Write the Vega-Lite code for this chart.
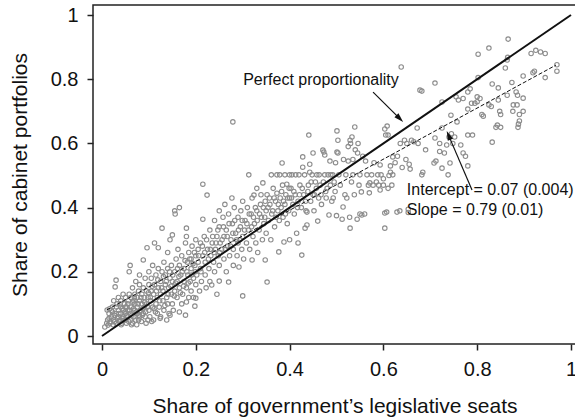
{
  "$schema": "https://vega.github.io/schema/vega-lite/v6.json",
  "width": 483,
  "height": 339,
  "autosize": {"type": "none"},
  "padding": {"left": 93, "top": 5, "right": 0, "bottom": 76},
  "background": "white",
  "config": {
    "font": "Liberation Sans",
    "view": {"stroke": "#222", "strokeWidth": 1.5},
    "axis": {
      "domain": false,
      "grid": false,
      "tickColor": "#222",
      "tickWidth": 1.5,
      "tickSize": 6,
      "labelFont": "Liberation Sans",
      "labelFontSize": 20,
      "labelColor": "#111",
      "titleFont": "Liberation Sans",
      "titleFontSize": 21,
      "titleFontWeight": "normal",
      "titleColor": "#111"
    }
  },
  "datasets": {
    "pts": [
      {"x":0.006,"y":0.028},{"x":0.01,"y":0.04},{"x":0.011,"y":0.081},{"x":0.012,"y":0.05},{"x":0.013,"y":0.034},{"x":0.015,"y":0.07},{"x":0.016,"y":0.085},{"x":0.017,"y":0.04},{"x":0.018,"y":0.045},{"x":0.02,"y":0.06},{"x":0.02,"y":0.08},{"x":0.022,"y":0.09},{"x":0.024,"y":0.035},{"x":0.025,"y":0.05},{"x":0.025,"y":0.11},{"x":0.026,"y":0.065},{"x":0.028,"y":0.153},{"x":0.03,"y":0.174},{"x":0.03,"y":0.07},{"x":0.03,"y":0.04},{"x":0.032,"y":0.1},{"x":0.033,"y":0.055},{"x":0.035,"y":0.06},{"x":0.035,"y":0.08},{"x":0.035,"y":0.12},{"x":0.037,"y":0.045},{"x":0.038,"y":0.05},{"x":0.04,"y":0.09},{"x":0.04,"y":0.07},{"x":0.04,"y":0.11},{"x":0.041,"y":0.035},{"x":0.042,"y":0.04},{"x":0.043,"y":0.085},{"x":0.045,"y":0.06},{"x":0.045,"y":0.13},{"x":0.045,"y":0.08},{"x":0.047,"y":0.05},{"x":0.048,"y":0.1},{"x":0.05,"y":0.05},{"x":0.05,"y":0.07},{"x":0.05,"y":0.12},{"x":0.05,"y":0.09},
      {"x":0.015,"y":0.055},{"x":0.022,"y":0.075},{"x":0.027,"y":0.045},{"x":0.031,"y":0.09},{"x":0.036,"y":0.07},{"x":0.039,"y":0.1},{"x":0.044,"y":0.055},{"x":0.049,"y":0.075},{"x":0.053,"y":0.09},{"x":0.056,"y":0.11},{"x":0.059,"y":0.08},{"x":0.064,"y":0.065},{"x":0.067,"y":0.085},{"x":0.069,"y":0.12},{"x":0.073,"y":0.075},{"x":0.077,"y":0.1},{"x":0.079,"y":0.065},{"x":0.083,"y":0.12},{"x":0.087,"y":0.085},{"x":0.091,"y":0.105},{"x":0.093,"y":0.075},{"x":0.097,"y":0.09},{"x":0.099,"y":0.135},
      {"x":0.052,"y":0.04},{"x":0.053,"y":0.065},{"x":0.055,"y":0.06},{"x":0.055,"y":0.08},{"x":0.055,"y":0.1},{"x":0.057,"y":0.045},{"x":0.058,"y":0.13},{"x":0.058,"y":0.2},{"x":0.06,"y":0.22},{"x":0.06,"y":0.05},{"x":0.06,"y":0.07},{"x":0.062,"y":0.09},{"x":0.062,"y":0.12},{"x":0.063,"y":0.035},{"x":0.065,"y":0.15},{"x":0.065,"y":0.04},{"x":0.066,"y":0.105},{"x":0.068,"y":0.06},{"x":0.068,"y":0.11},{"x":0.07,"y":0.08},{"x":0.07,"y":0.13},{"x":0.07,"y":0.1},{"x":0.072,"y":0.05},{"x":0.072,"y":0.17},{"x":0.074,"y":0.035},{"x":0.075,"y":0.07},{"x":0.075,"y":0.09},{"x":0.075,"y":0.12},{"x":0.078,"y":0.14},{"x":0.078,"y":0.05},{"x":0.08,"y":0.06},{"x":0.08,"y":0.11},{"x":0.08,"y":0.16},{"x":0.08,"y":0.19},{"x":0.082,"y":0.08},{"x":0.084,"y":0.045},{"x":0.085,"y":0.1},{"x":0.085,"y":0.13},{"x":0.086,"y":0.065},{"x":0.088,"y":0.237},{"x":0.088,"y":0.07},{"x":0.088,"y":0.15},{"x":0.09,"y":0.12},{"x":0.09,"y":0.09},{"x":0.092,"y":0.06},{"x":0.092,"y":0.18},{"x":0.094,"y":0.04},{"x":0.095,"y":0.1},{"x":0.095,"y":0.14},{"x":0.096,"y":0.275},{"x":0.098,"y":0.05},{"x":0.098,"y":0.12},{"x":0.1,"y":0.08},{"x":0.1,"y":0.16},{"x":0.1,"y":0.2},
      {"x":0.102,"y":0.06},{"x":0.104,"y":0.11},{"x":0.105,"y":0.14},{"x":0.105,"y":0.18},{"x":0.106,"y":0.045},{"x":0.108,"y":0.09},{"x":0.108,"y":0.22},{"x":0.11,"y":0.05},{"x":0.11,"y":0.13},{"x":0.112,"y":0.16},{"x":0.112,"y":0.29},{"x":0.114,"y":0.075},{"x":0.115,"y":0.1},{"x":0.115,"y":0.19},{"x":0.118,"y":0.07},{"x":0.118,"y":0.12},{"x":0.12,"y":0.15},{"x":0.12,"y":0.275},{"x":0.12,"y":0.21},{"x":0.122,"y":0.09},{"x":0.124,"y":0.055},{"x":0.125,"y":0.13},{"x":0.125,"y":0.17},{"x":0.125,"y":0.06},{"x":0.128,"y":0.336},{"x":0.128,"y":0.2},{"x":0.13,"y":0.11},{"x":0.13,"y":0.14},{"x":0.132,"y":0.08},{"x":0.132,"y":0.23},{"x":0.135,"y":0.16},{"x":0.135,"y":0.19},{"x":0.138,"y":0.12},{"x":0.138,"y":0.05},{"x":0.14,"y":0.1},{"x":0.14,"y":0.21},{"x":0.14,"y":0.26},{"x":0.142,"y":0.15},{"x":0.143,"y":0.07},{"x":0.145,"y":0.3},{"x":0.145,"y":0.18},{"x":0.145,"y":0.065},{"x":0.148,"y":0.13},{"x":0.148,"y":0.22},{"x":0.15,"y":0.315},{"x":0.15,"y":0.17},{"x":0.15,"y":0.1},{"x":0.155,"y":0.39},{"x":0.165,"y":0.40},{"x":0.156,"y":0.38},
      {"x":0.103,"y":0.12},{"x":0.107,"y":0.155},{"x":0.111,"y":0.085},{"x":0.116,"y":0.14},{"x":0.119,"y":0.175},{"x":0.123,"y":0.11},{"x":0.127,"y":0.15},{"x":0.131,"y":0.185},{"x":0.134,"y":0.095},{"x":0.137,"y":0.17},{"x":0.141,"y":0.13},{"x":0.144,"y":0.2},{"x":0.147,"y":0.155},{"x":0.151,"y":0.19},{"x":0.154,"y":0.125},{"x":0.157,"y":0.165},{"x":0.161,"y":0.21},{"x":0.164,"y":0.185},{"x":0.167,"y":0.135},{"x":0.171,"y":0.2},{"x":0.174,"y":0.155},{"x":0.177,"y":0.235},{"x":0.181,"y":0.2},{"x":0.184,"y":0.165},{"x":0.187,"y":0.24},{"x":0.191,"y":0.19},{"x":0.194,"y":0.225},{"x":0.197,"y":0.26},{"x":0.199,"y":0.2},
      {"x":0.152,"y":0.08},{"x":0.155,"y":0.14},{"x":0.155,"y":0.2},{"x":0.158,"y":0.24},{"x":0.16,"y":0.12},{"x":0.16,"y":0.17},{"x":0.162,"y":0.27},{"x":0.165,"y":0.075},{"x":0.165,"y":0.15},{"x":0.165,"y":0.22},{"x":0.168,"y":0.19},{"x":0.17,"y":0.1},{"x":0.17,"y":0.25},{"x":0.172,"y":0.13},{"x":0.175,"y":0.17},{"x":0.175,"y":0.21},{"x":0.178,"y":0.065},{"x":0.178,"y":0.29},{"x":0.18,"y":0.106},{"x":0.18,"y":0.31},{"x":0.18,"y":0.336},{"x":0.18,"y":0.15},{"x":0.182,"y":0.23},{"x":0.183,"y":0.19},{"x":0.185,"y":0.26},{"x":0.185,"y":0.12},{"x":0.188,"y":0.17},{"x":0.19,"y":0.21},{"x":0.19,"y":0.24},{"x":0.19,"y":0.14},{"x":0.192,"y":0.28},{"x":0.195,"y":0.12},{"x":0.195,"y":0.18},{"x":0.198,"y":0.093},{"x":0.198,"y":0.22},{"x":0.2,"y":0.118},{"x":0.2,"y":0.25},{"x":0.2,"y":0.3},{"x":0.2,"y":0.16},
      {"x":0.202,"y":0.19},{"x":0.205,"y":0.27},{"x":0.205,"y":0.23},{"x":0.208,"y":0.14},{"x":0.21,"y":0.29},{"x":0.21,"y":0.21},{"x":0.212,"y":0.17},{"x":0.215,"y":0.364},{"x":0.215,"y":0.473},{"x":0.215,"y":0.25},{"x":0.218,"y":0.31},{"x":0.22,"y":0.19},{"x":0.22,"y":0.23},{"x":0.222,"y":0.15},{"x":0.224,"y":0.439},{"x":0.225,"y":0.27},{"x":0.228,"y":0.21},{"x":0.23,"y":0.33},{"x":0.23,"y":0.17},{"x":0.232,"y":0.25},{"x":0.234,"y":0.159},{"x":0.235,"y":0.29},{"x":0.238,"y":0.23},{"x":0.24,"y":0.2},{"x":0.24,"y":0.36},{"x":0.242,"y":0.27},{"x":0.245,"y":0.31},{"x":0.245,"y":0.13},{"x":0.248,"y":0.25},{"x":0.25,"y":0.171},{"x":0.25,"y":0.22},{"x":0.25,"y":0.34},{"x":0.25,"y":0.39},
      {"x":0.206,"y":0.25},{"x":0.211,"y":0.2},{"x":0.214,"y":0.28},{"x":0.219,"y":0.26},{"x":0.223,"y":0.3},{"x":0.227,"y":0.24},{"x":0.231,"y":0.27},{"x":0.236,"y":0.31},{"x":0.239,"y":0.26},{"x":0.243,"y":0.29},{"x":0.247,"y":0.33},{"x":0.251,"y":0.26},{"x":0.256,"y":0.3},{"x":0.259,"y":0.34},{"x":0.263,"y":0.27},{"x":0.267,"y":0.31},{"x":0.271,"y":0.35},{"x":0.274,"y":0.28},{"x":0.279,"y":0.32},{"x":0.283,"y":0.36},{"x":0.287,"y":0.3},{"x":0.291,"y":0.33},{"x":0.294,"y":0.3},{"x":0.299,"y":0.36},{"x":0.304,"y":0.33},{"x":0.309,"y":0.35},{"x":0.314,"y":0.38},{"x":0.319,"y":0.34},{"x":0.323,"y":0.37},{"x":0.327,"y":0.4},{"x":0.331,"y":0.36},{"x":0.336,"y":0.38},{"x":0.339,"y":0.44},{"x":0.344,"y":0.4},{"x":0.347,"y":0.37},
      {"x":0.252,"y":0.29},{"x":0.255,"y":0.27},{"x":0.258,"y":0.37},{"x":0.26,"y":0.24},{"x":0.26,"y":0.31},{"x":0.262,"y":0.41},{"x":0.265,"y":0.2},{"x":0.265,"y":0.33},{"x":0.268,"y":0.28},{"x":0.27,"y":0.168},{"x":0.27,"y":0.38},{"x":0.272,"y":0.25},{"x":0.275,"y":0.3},{"x":0.277,"y":0.43},{"x":0.278,"y":0.35},{"x":0.279,"y":0.667},{"x":0.28,"y":0.22},{"x":0.28,"y":0.27},{"x":0.282,"y":0.4},{"x":0.285,"y":0.32},{"x":0.288,"y":0.25},{"x":0.29,"y":0.37},{"x":0.29,"y":0.29},{"x":0.292,"y":0.215},{"x":0.295,"y":0.34},{"x":0.296,"y":0.39},{"x":0.298,"y":0.27},{"x":0.3,"y":0.125},{"x":0.3,"y":0.31},{"x":0.3,"y":0.42},
      {"x":0.302,"y":0.24},{"x":0.305,"y":0.36},{"x":0.308,"y":0.29},{"x":0.31,"y":0.4},{"x":0.312,"y":0.33},{"x":0.313,"y":0.502},{"x":0.315,"y":0.27},{"x":0.318,"y":0.38},{"x":0.32,"y":0.237},{"x":0.32,"y":0.43},{"x":0.322,"y":0.31},{"x":0.324,"y":0.439},{"x":0.325,"y":0.35},{"x":0.328,"y":0.29},{"x":0.33,"y":0.39},{"x":0.33,"y":0.46},{"x":0.332,"y":0.26},{"x":0.335,"y":0.33},{"x":0.338,"y":0.41},{"x":0.34,"y":0.37},{"x":0.342,"y":0.3},{"x":0.343,"y":0.477},{"x":0.345,"y":0.35},{"x":0.348,"y":0.237},{"x":0.348,"y":0.42},{"x":0.35,"y":0.39},{"x":0.35,"y":0.32},{"x":0.352,"y":0.168},
      {"x":0.352,"y":0.44},{"x":0.355,"y":0.36},{"x":0.358,"y":0.41},{"x":0.36,"y":0.3},{"x":0.362,"y":0.38},{"x":0.365,"y":0.46},{"x":0.368,"y":0.34},{"x":0.37,"y":0.42},{"x":0.373,"y":0.502},{"x":0.373,"y":0.445},{"x":0.375,"y":0.39},{"x":0.377,"y":0.262},{"x":0.378,"y":0.36},{"x":0.38,"y":0.43},{"x":0.382,"y":0.4},{"x":0.384,"y":0.539},{"x":0.385,"y":0.47},{"x":0.386,"y":0.37},{"x":0.388,"y":0.293},{"x":0.39,"y":0.502},{"x":0.39,"y":0.41},{"x":0.392,"y":0.44},{"x":0.394,"y":0.473},{"x":0.395,"y":0.35},{"x":0.398,"y":0.39},{"x":0.4,"y":0.3},{"x":0.4,"y":0.43},{"x":0.4,"y":0.502},
      {"x":0.354,"y":0.4},{"x":0.357,"y":0.43},{"x":0.361,"y":0.502},{"x":0.364,"y":0.39},{"x":0.367,"y":0.43},{"x":0.371,"y":0.37},{"x":0.376,"y":0.41},{"x":0.379,"y":0.502},{"x":0.383,"y":0.45},{"x":0.387,"y":0.42},{"x":0.391,"y":0.38},{"x":0.396,"y":0.43},{"x":0.399,"y":0.46},{"x":0.404,"y":0.43},{"x":0.409,"y":0.45},{"x":0.413,"y":0.502},{"x":0.417,"y":0.4},{"x":0.421,"y":0.44},{"x":0.427,"y":0.46},{"x":0.434,"y":0.42},{"x":0.439,"y":0.45},{"x":0.446,"y":0.48},{"x":0.453,"y":0.44},{"x":0.457,"y":0.46},{"x":0.463,"y":0.502},{"x":0.467,"y":0.44},{"x":0.472,"y":0.48},{"x":0.477,"y":0.45},{"x":0.482,"y":0.502},{"x":0.487,"y":0.47},{"x":0.492,"y":0.502},{"x":0.497,"y":0.45},
      {"x":0.403,"y":0.46},{"x":0.405,"y":0.502},{"x":0.407,"y":0.41},{"x":0.41,"y":0.38},{"x":0.412,"y":0.44},{"x":0.415,"y":0.32},{"x":0.418,"y":0.29},{"x":0.418,"y":0.42},{"x":0.42,"y":0.502},{"x":0.422,"y":0.47},{"x":0.425,"y":0.4},{"x":0.426,"y":0.252},{"x":0.428,"y":0.526},{"x":0.428,"y":0.558},{"x":0.43,"y":0.44},{"x":0.432,"y":0.502},{"x":0.433,"y":0.336},{"x":0.435,"y":0.39},{"x":0.437,"y":0.346},{"x":0.437,"y":0.386},{"x":0.44,"y":0.47},{"x":0.441,"y":0.626},{"x":0.443,"y":0.51},{"x":0.443,"y":0.535},{"x":0.445,"y":0.42},{"x":0.448,"y":0.502},{"x":0.45,"y":0.57},{"x":0.45,"y":0.44},
      {"x":0.452,"y":0.39},{"x":0.455,"y":0.48},{"x":0.458,"y":0.502},{"x":0.46,"y":0.358},{"x":0.462,"y":0.43},{"x":0.465,"y":0.47},{"x":0.468,"y":0.41},{"x":0.471,"y":0.579},{"x":0.473,"y":0.573},{"x":0.475,"y":0.564},{"x":0.475,"y":0.502},{"x":0.478,"y":0.43},{"x":0.48,"y":0.46},{"x":0.484,"y":0.377},{"x":0.486,"y":0.545},{"x":0.488,"y":0.502},{"x":0.49,"y":0.42},{"x":0.493,"y":0.43},{"x":0.495,"y":0.48},{"x":0.498,"y":0.54},{"x":0.5,"y":0.375},{"x":0.501,"y":0.573},{"x":0.501,"y":0.639},{"x":0.503,"y":0.61},
      {"x":0.503,"y":0.57},{"x":0.505,"y":0.502},{"x":0.508,"y":0.47},{"x":0.512,"y":0.364},{"x":0.514,"y":0.402},{"x":0.515,"y":0.55},{"x":0.518,"y":0.44},{"x":0.52,"y":0.502},{"x":0.522,"y":0.43},{"x":0.525,"y":0.59},{"x":0.525,"y":0.545},{"x":0.528,"y":0.37},{"x":0.529,"y":0.336},{"x":0.529,"y":0.61},{"x":0.53,"y":0.6},{"x":0.532,"y":0.48},{"x":0.533,"y":0.62},{"x":0.535,"y":0.55},{"x":0.535,"y":0.502},{"x":0.538,"y":0.44},{"x":0.539,"y":0.651},{"x":0.54,"y":0.58},{"x":0.544,"y":0.364},{"x":0.545,"y":0.57},{"x":0.546,"y":0.6},{"x":0.548,"y":0.47},{"x":0.55,"y":0.502},{"x":0.55,"y":0.38},
      {"x":0.553,"y":0.449},{"x":0.554,"y":0.377},{"x":0.556,"y":0.56},{"x":0.56,"y":0.38},{"x":0.562,"y":0.545},{"x":0.565,"y":0.502},{"x":0.568,"y":0.47},{"x":0.57,"y":0.446},{"x":0.571,"y":0.477},{"x":0.575,"y":0.502},{"x":0.578,"y":0.47},{"x":0.58,"y":0.54},{"x":0.585,"y":0.48},{"x":0.588,"y":0.502},{"x":0.59,"y":0.47},{"x":0.593,"y":0.455},{"x":0.593,"y":0.533},{"x":0.595,"y":0.502},{"x":0.6,"y":0.47},{"x":0.6,"y":0.49},
      {"x":0.603,"y":0.336},{"x":0.603,"y":0.383},{"x":0.603,"y":0.645},{"x":0.605,"y":0.626},{"x":0.607,"y":0.386},{"x":0.608,"y":0.654},{"x":0.61,"y":0.626},{"x":0.61,"y":0.46},{"x":0.612,"y":0.5},{"x":0.615,"y":0.53},{"x":0.615,"y":0.51},{"x":0.618,"y":0.47},{"x":0.62,"y":0.558},{"x":0.62,"y":0.502},{"x":0.625,"y":0.54},{"x":0.629,"y":0.386},{"x":0.63,"y":0.56},{"x":0.635,"y":0.39},{"x":0.636,"y":0.6},{"x":0.638,"y":0.838},{"x":0.64,"y":0.525},{"x":0.645,"y":0.61},{"x":0.648,"y":0.55},{"x":0.65,"y":0.6},{"x":0.653,"y":0.385},{"x":0.653,"y":0.395},
      {"x":0.655,"y":0.535},{"x":0.657,"y":0.52},{"x":0.66,"y":0.61},{"x":0.665,"y":0.605},{"x":0.672,"y":0.648},{"x":0.674,"y":0.6},{"x":0.678,"y":0.766},{"x":0.682,"y":0.763},{"x":0.682,"y":0.502},{"x":0.684,"y":0.51},{"x":0.69,"y":0.58},
      {"x":0.708,"y":0.539},{"x":0.71,"y":0.617},{"x":0.71,"y":0.788},{"x":0.712,"y":0.545},{"x":0.72,"y":0.575},{"x":0.72,"y":0.6},{"x":0.725,"y":0.729},{"x":0.725,"y":0.648},{"x":0.725,"y":0.523},{"x":0.73,"y":0.57},{"x":0.735,"y":0.595},{"x":0.738,"y":0.502},{"x":0.74,"y":0.62},{"x":0.742,"y":0.539},{"x":0.744,"y":0.688},{"x":0.745,"y":0.63},{"x":0.748,"y":0.6},
      {"x":0.752,"y":0.62},{"x":0.755,"y":0.745},{"x":0.757,"y":0.667},{"x":0.76,"y":0.735},{"x":0.765,"y":0.595},{"x":0.77,"y":0.57},{"x":0.77,"y":0.74},{"x":0.775,"y":0.56},{"x":0.78,"y":0.707},{"x":0.78,"y":0.626},{"x":0.78,"y":0.53},{"x":0.78,"y":0.76},{"x":0.785,"y":0.77},{"x":0.788,"y":0.725},{"x":0.79,"y":0.626},{"x":0.795,"y":0.725},{"x":0.8,"y":0.73},{"x":0.8,"y":0.745},
      {"x":0.802,"y":0.878},{"x":0.802,"y":0.805},{"x":0.806,"y":0.74},{"x":0.81,"y":0.69},{"x":0.813,"y":0.685},{"x":0.825,"y":0.897},{"x":0.825,"y":0.72},{"x":0.83,"y":0.715},{"x":0.832,"y":0.785},{"x":0.832,"y":0.604},{"x":0.84,"y":0.65},{"x":0.843,"y":0.657},{"x":0.845,"y":0.773},{"x":0.845,"y":0.735},{"x":0.848,"y":0.7},{"x":0.85,"y":0.69},{"x":0.85,"y":0.65},
      {"x":0.86,"y":0.835},{"x":0.864,"y":0.86},{"x":0.866,"y":0.925},{"x":0.864,"y":0.75},{"x":0.865,"y":0.868},{"x":0.874,"y":0.79},{"x":0.876,"y":0.7},{"x":0.877,"y":0.72},{"x":0.885,"y":0.72},{"x":0.883,"y":0.76},{"x":0.886,"y":0.75},{"x":0.89,"y":0.69},{"x":0.89,"y":0.67},{"x":0.888,"y":0.66},{"x":0.887,"y":0.65},{"x":0.898,"y":0.81},{"x":0.898,"y":0.741},{"x":0.898,"y":0.70},{"x":0.915,"y":0.88},{"x":0.919,"y":0.82},{"x":0.922,"y":0.825},{"x":0.925,"y":0.89},{"x":0.935,"y":0.885},{"x":0.945,"y":0.88},{"x":0.945,"y":0.805},{"x":0.97,"y":0.845},{"x":0.97,"y":0.825}
    ],
    "perfect": [{"x": 0, "y": 0}, {"x": 1, "y": 1}],
    "fit": [{"x": 0.01, "y": 0.081}, {"x": 0.968, "y": 0.844}],
    "arrow1": [{"x": 0.578, "y": 0.76, "x2": 0.635, "y2": 0.677}],
    "arrow2": [{"x": 0.789, "y": 0.455, "x2": 0.739, "y2": 0.625}],
    "labels1": [{"x": 0.301, "y": 0.782, "label": "Perfect proportionality"}],
    "labels2": [
      {"x": 0.65, "y": 0.439, "label": "Intercept = 0.07 (0.004)"},
      {"x": 0.65, "y": 0.377, "label": "Slope = 0.79 (0.01)"}
    ]
  },
  "encoding": {
    "x": {
      "field": "x", "type": "quantitative",
      "scale": {"domain": [-0.0192, 1.0107], "nice": false, "zero": false},
      "axis": {"values": [0, 0.2, 0.4, 0.6, 0.8, 1], "format": "~g", "labelPadding": 9, "title": "Share of government\u2019s legislative seats", "titlePadding": 16}
    },
    "y": {
      "field": "y", "type": "quantitative",
      "scale": {"domain": [-0.0249, 1.0312], "nice": false, "zero": false},
      "axis": {"values": [0, 0.2, 0.4, 0.6, 0.8, 1], "format": "~g", "labelPadding": 9, "title": "Share of cabinet portfolios", "titlePadding": 20}
    }
  },
  "layer": [
    {
      "data": {"name": "pts"},
      "mark": {"type": "point", "shape": "circle", "filled": false, "size": 20, "stroke": "#8c8c8c", "strokeWidth": 1.1, "opacity": 1}
    },
    {
      "data": {"name": "perfect"},
      "mark": {"type": "line", "color": "#111", "strokeWidth": 2}
    },
    {
      "data": {"name": "fit"},
      "mark": {"type": "line", "color": "#111", "strokeWidth": 1, "strokeDash": [4, 2]}
    },
    {
      "data": {"name": "arrow1"},
      "mark": {"type": "rule", "color": "#111", "strokeWidth": 1.2},
      "encoding": {"x2": {"field": "x2"}, "y2": {"field": "y2"}}
    },
    {
      "data": {"name": "arrow2"},
      "mark": {"type": "rule", "color": "#111", "strokeWidth": 1.2},
      "encoding": {"x2": {"field": "x2"}, "y2": {"field": "y2"}}
    },
    {
      "data": {"name": "arrow1"},
      "mark": {"type": "point", "shape": "M0,-1L0.6,1L-0.6,1Z", "filled": true, "color": "#111", "size": 90, "angle": 135, "opacity": 1},
      "encoding": {"x": {"field": "x2", "type": "quantitative"}, "y": {"field": "y2", "type": "quantitative"}}
    },
    {
      "data": {"name": "arrow2"},
      "mark": {"type": "point", "shape": "M0,-1L0.6,1L-0.6,1Z", "filled": true, "color": "#111", "size": 90, "angle": 337, "opacity": 1},
      "encoding": {"x": {"field": "x2", "type": "quantitative"}, "y": {"field": "y2", "type": "quantitative"}}
    },
    {
      "data": {"name": "labels1"},
      "mark": {"type": "text", "align": "left", "baseline": "alphabetic", "fontSize": 16, "font": "Liberation Sans", "color": "#111"},
      "encoding": {"text": {"field": "label"}}
    },
    {
      "data": {"name": "labels2"},
      "mark": {"type": "text", "align": "left", "baseline": "alphabetic", "fontSize": 16, "font": "Liberation Sans", "color": "#111"},
      "encoding": {"text": {"field": "label"}}
    }
  ]
}
